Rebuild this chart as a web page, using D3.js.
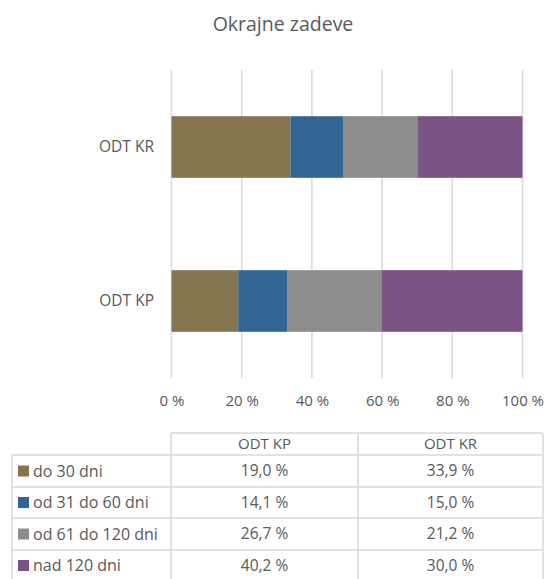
<!DOCTYPE html>
<html><head><meta charset="utf-8">
<script src="https://cdn.jsdelivr.net/npm/d3@7"></script>
<style>body{margin:0;background:#fff}svg{display:block}text{font-family:"Open Sans",sans-serif;fill:#595959}</style>
</head><body><svg id="c" width="547" height="579"></svg>
<script>
const title = "Okrajne zadeve";
const categories = ["ODT KP", "ODT KR"];
const seriesNames = ["do 30 dni", "od 31 do 60 dni", "od 61 do 120 dni", "nad 120 dni"];
const seriesColors = ["#857650", "#336594", "#8c8c8c", "#7b5384"];
const valuesKP = [19.0, 14.1, 26.7, 40.2];
const valuesKR = [33.9, 15.0, 21.2, 30.0];
const tickValues = [0, 0.2, 0.4, 0.6, 0.8, 1.0];

const svg = d3.select("#c");
const fmt = v => d3.format(".1f")(v).replace(".", ",") + " %";

svg.append("text").attr("x", 283).attr("y", 31).attr("text-anchor", "middle")
  .style("font-size", "19.5px").text(title);

const x = d3.scaleLinear().domain([0, 1]).range([171.5, 522.5]);
const y = d3.scaleBand().domain(["ODT KR", "ODT KP"]).range([70, 378]).paddingInner(0.6).paddingOuter(0.3);

// gridlines
svg.append("g").selectAll("line").data(tickValues).join("line")
  .attr("x1", d => x(d)).attr("x2", d => x(d)).attr("y1", 70).attr("y2", 378)
  .attr("stroke", "#d9d9d9").attr("stroke-width", 1.5);

const rows = categories.map((c, i) => {
  const vals = i === 0 ? valuesKP : valuesKR;
  const o = {cat: c};
  seriesNames.forEach((s, j) => o[s] = vals[j]);
  return o;
});
const stack = d3.stack().keys(seriesNames).offset(d3.stackOffsetExpand)(rows);

svg.append("g").selectAll("g").data(stack).join("g")
  .attr("fill", (d, i) => seriesColors[i])
  .selectAll("rect").data(d => d).join("rect")
  .attr("x", d => x(d[0])).attr("width", d => x(d[1]) - x(d[0]))
  .attr("y", d => y(d.data.cat)).attr("height", y.bandwidth());

// category labels
svg.append("g").selectAll("text").data(categories).join("text")
  .attr("x", 154).attr("y", d => y(d) + y.bandwidth() / 2).attr("dy", "0.35em")
  .attr("text-anchor", "end").style("font-size", "15.5px").text(d => d);

// x axis tick labels
const xa = svg.append("g").attr("transform", "translate(0,390)")
  .call(d3.axisBottom(x).tickValues(tickValues).tickFormat(d => Math.round(d * 100) + " %").tickSize(0).tickPadding(5));
xa.select(".domain").remove();
xa.selectAll("text").style("font-size", "15px").style("font-family", "'Open Sans',sans-serif").attr("fill", "#595959");

// data table
const colX = [12, 171, 358, 543];
const rowY = [433, 455, 487, 518, 550, 581];
const tg = svg.append("g");
const lineC = "#d9d9d9";
tg.append("line").attr("x1", colX[1]).attr("x2", colX[3]).attr("y1", rowY[0]).attr("y2", rowY[0]).attr("stroke", lineC).attr("stroke-width", 1.5);
rowY.slice(1).forEach(yy => tg.append("line").attr("x1", colX[0]).attr("x2", colX[3]).attr("y1", yy).attr("y2", yy).attr("stroke", lineC).attr("stroke-width", 1.5));
tg.append("line").attr("x1", colX[0]).attr("x2", colX[0]).attr("y1", rowY[1]).attr("y2", rowY[5]).attr("stroke", lineC).attr("stroke-width", 1.5);
[1, 2, 3].forEach(k => tg.append("line").attr("x1", colX[k]).attr("x2", colX[k]).attr("y1", rowY[0]).attr("y2", rowY[5]).attr("stroke", lineC).attr("stroke-width", 1.5));

categories.forEach((c, i) => {
  tg.append("text").attr("x", (colX[i + 1] + colX[i + 2]) / 2).attr("y", (rowY[0] + rowY[1]) / 2).attr("dy", "0.35em")
    .attr("text-anchor", "middle").style("font-size", "15px").text(c);
});
seriesNames.forEach((s, j) => {
  const cy = (rowY[j + 1] + rowY[j + 2]) / 2;
  tg.append("rect").attr("x", 18).attr("y", cy - 5.5).attr("width", 11).attr("height", 11).attr("fill", seriesColors[j]);
  tg.append("text").attr("x", 33).attr("y", cy).attr("dy", "0.35em").style("font-size", "16px").text(s);
  [valuesKP, valuesKR].forEach((vals, i) => {
    tg.append("text").attr("x", (colX[i + 1] + colX[i + 2]) / 2).attr("y", cy).attr("dy", "0.35em")
      .attr("text-anchor", "middle").style("font-size", "15.5px").text(fmt(vals[j]));
  });
});
</script></body></html>
